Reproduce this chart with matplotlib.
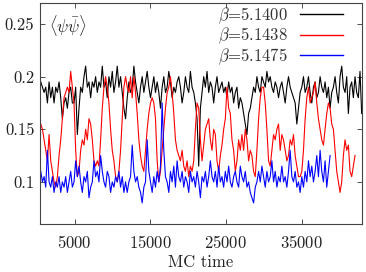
import numpy as np
import matplotlib
matplotlib.use("Agg")
import matplotlib.pyplot as plt
from matplotlib.ticker import FuncFormatter

plt.rcParams['font.family'] = 'cmr10'
plt.rcParams['mathtext.fontset'] = 'cm'
plt.rcParams['axes.formatter.use_mathtext'] = True
plt.rcParams['font.size'] = 12

# MC time of first sample and spacing between samples
t0 = 500
dt = 220

labels = [r'$\beta$=5.1400', r'$\beta$=5.1438', r'$\beta$=5.1475']
colors = ['black', '#ff0000', '#0000ff']

pbp_51400 = [
    0.195, 0.19, 0.185, 0.19, 0.175, 0.195, 0.18, 0.19, 0.175, 0.19,
    0.185, 0.195, 0.18, 0.16, 0.175, 0.18, 0.17, 0.185, 0.19, 0.175,
    0.175, 0.19, 0.145, 0.17, 0.19, 0.185, 0.2, 0.21, 0.19, 0.195,
    0.18, 0.195, 0.19, 0.2, 0.185, 0.195, 0.19, 0.21, 0.19, 0.195,
    0.18, 0.2, 0.19, 0.205, 0.185, 0.195, 0.21, 0.19, 0.2, 0.185,
    0.17, 0.16, 0.18, 0.195, 0.185, 0.19, 0.21, 0.195, 0.185, 0.175,
    0.19, 0.2, 0.185, 0.195, 0.205, 0.19, 0.18, 0.19, 0.2, 0.185,
    0.195, 0.185, 0.17, 0.19, 0.2, 0.185, 0.19, 0.205, 0.195, 0.18,
    0.19, 0.185, 0.195, 0.2, 0.19, 0.175, 0.185, 0.2, 0.19, 0.185,
    0.205, 0.19, 0.185, 0.175, 0.16, 0.115, 0.17, 0.185, 0.2, 0.19,
    0.205, 0.185, 0.195, 0.19, 0.175, 0.19, 0.2, 0.185, 0.19, 0.195,
    0.185, 0.19, 0.18, 0.195, 0.185, 0.19, 0.175, 0.185, 0.19, 0.17,
    0.18, 0.175, 0.165, 0.155, 0.145, 0.165, 0.17, 0.18, 0.19, 0.185,
    0.2, 0.19, 0.185, 0.2, 0.195, 0.19, 0.205, 0.195, 0.2, 0.19,
    0.185, 0.195, 0.19, 0.18, 0.19, 0.195, 0.185, 0.175, 0.19, 0.2,
    0.19, 0.185, 0.18, 0.175, 0.155, 0.17, 0.185, 0.19, 0.2, 0.185,
    0.19, 0.2, 0.185, 0.175, 0.19, 0.195, 0.18, 0.185, 0.2, 0.19,
    0.185, 0.195, 0.18, 0.19, 0.17, 0.185, 0.19, 0.2, 0.185, 0.175,
    0.2, 0.21, 0.19, 0.185, 0.2, 0.165, 0.19, 0.195, 0.18, 0.2,
    0.185, 0.18, 0.205, 0.165,
]

pbp_51438 = [
    0.155, 0.15, 0.14, 0.13, 0.12, 0.145, 0.12, 0.11, 0.1, 0.095,
    0.105, 0.125, 0.14, 0.16, 0.18, 0.185, 0.19, 0.185, 0.205, 0.19,
    0.175, 0.13, 0.105, 0.11, 0.13, 0.14, 0.135, 0.15, 0.14, 0.16,
    0.155, 0.14, 0.12, 0.115, 0.12, 0.115, 0.14, 0.17, 0.19, 0.2,
    0.19, 0.175, 0.15, 0.13, 0.12, 0.105, 0.1, 0.11, 0.13, 0.16,
    0.19, 0.2, 0.19, 0.185, 0.2, 0.18, 0.2, 0.185, 0.165, 0.14,
    0.125, 0.115, 0.11, 0.13, 0.15, 0.165, 0.175, 0.18, 0.175, 0.16,
    0.12, 0.1, 0.11, 0.13, 0.15, 0.17, 0.185, 0.19, 0.2, 0.185,
    0.165, 0.14, 0.13, 0.125, 0.12, 0.13, 0.115, 0.11, 0.12, 0.105,
    0.115, 0.11, 0.12, 0.15, 0.175, 0.17, 0.14, 0.12, 0.135, 0.15,
    0.155, 0.16, 0.14, 0.13, 0.15, 0.145, 0.12, 0.11, 0.125, 0.135,
    0.15, 0.16, 0.19, 0.17, 0.165, 0.14, 0.13, 0.11, 0.12, 0.14,
    0.13, 0.145, 0.13, 0.15, 0.14, 0.12, 0.13, 0.125, 0.11, 0.105,
    0.13, 0.16, 0.18, 0.19, 0.19, 0.175, 0.15, 0.12, 0.115, 0.13,
    0.145, 0.14, 0.15, 0.155, 0.13, 0.145, 0.14, 0.13, 0.12, 0.125,
    0.14, 0.135, 0.145, 0.125, 0.115, 0.105, 0.105, 0.11, 0.13, 0.16,
    0.18, 0.19, 0.175, 0.18, 0.185, 0.195, 0.175, 0.16, 0.15, 0.14,
    0.135, 0.15, 0.165, 0.175, 0.17, 0.155, 0.15, 0.13, 0.11, 0.1,
    0.09, 0.1, 0.125, 0.14, 0.13, 0.135, 0.11, 0.105, 0.115, 0.125,
]

pbp_51475 = [
    0.11, 0.1, 0.105, 0.095, 0.13, 0.1, 0.095, 0.105, 0.09, 0.1,
    0.095, 0.105, 0.09, 0.1, 0.095, 0.105, 0.09, 0.1, 0.11, 0.095,
    0.1, 0.12, 0.105, 0.115, 0.1, 0.09, 0.105, 0.1, 0.11, 0.085,
    0.095, 0.1, 0.12, 0.105, 0.11, 0.1, 0.125, 0.11, 0.1, 0.095,
    0.11, 0.105, 0.09, 0.1, 0.095, 0.105, 0.1, 0.11, 0.095, 0.105,
    0.09, 0.1, 0.09, 0.1, 0.105, 0.135, 0.11, 0.1, 0.105, 0.095,
    0.09, 0.08, 0.095, 0.1, 0.14, 0.11, 0.1, 0.09, 0.105, 0.095,
    0.11, 0.1, 0.115, 0.175, 0.13, 0.105, 0.1, 0.09, 0.11, 0.1,
    0.115, 0.095, 0.12, 0.105, 0.1, 0.11, 0.095, 0.105, 0.1, 0.09,
    0.11, 0.1, 0.105, 0.095, 0.11, 0.1, 0.085, 0.105, 0.1, 0.11,
    0.095, 0.105, 0.12, 0.105, 0.1, 0.11, 0.095, 0.115, 0.1, 0.105,
    0.095, 0.11, 0.1, 0.115, 0.1, 0.095, 0.105, 0.11, 0.1, 0.095,
    0.115, 0.105, 0.1, 0.11, 0.095, 0.1, 0.09, 0.085, 0.08, 0.095,
    0.1, 0.11, 0.1, 0.115, 0.105, 0.095, 0.11, 0.1, 0.105, 0.12,
    0.1, 0.11, 0.095, 0.105, 0.1, 0.115, 0.1, 0.105, 0.095, 0.11,
    0.13, 0.105, 0.1, 0.11, 0.095, 0.1, 0.09, 0.105, 0.095, 0.11,
    0.1, 0.12, 0.105, 0.115, 0.1, 0.11, 0.125, 0.105, 0.13, 0.11,
    0.1, 0.12, 0.095, 0.11, 0.125,
]

series = [pbp_51400, pbp_51438, pbp_51475]

xticks = [5000, 15000, 25000, 35000]
yticks = [0.1, 0.15, 0.2, 0.25]

fig = plt.figure(figsize=(3.66, 2.72), dpi=100)
ax = fig.add_axes([0.1093, 0.1765, 0.8797, 0.8125])

for vals, lab, col in zip(series, labels, colors):
    t = t0 + dt * np.arange(len(vals))
    ax.plot(t, vals, color=col, lw=0.8, label=lab)

ax.set_xlim(400, 43000)
ax.set_ylim(0.06, 0.27)
ax.set_xticks(xticks)
ax.set_yticks(yticks)
ax.yaxis.set_major_formatter(FuncFormatter(lambda v, p: '%g' % v))
ax.tick_params(direction='in', top=True, right=True, length=3.5, width=0.6,
               colors='#333333', labelcolor='#222222')
ax.tick_params(axis='x', pad=7)
ax.tick_params(axis='y', pad=4)
for s in ax.spines.values():
    s.set_color('#444444')
    s.set_linewidth(0.8)

ax.set_xlabel('MC time', color='#222222', labelpad=3)
ax.text(0.028, 0.955, r'$\langle\psi\bar{\psi}\rangle$', transform=ax.transAxes,
        ha='left', va='top', color='#222222')

leg = ax.legend(loc='upper right', bbox_to_anchor=(0.972, 1.035), frameon=False,
                markerfirst=False, handlelength=2.6, handletextpad=0.7,
                labelspacing=0.0, borderaxespad=0.2)
for txt in leg.get_texts():
    txt.set_color('#333333')
for h in leg.get_lines():
    h.set_linewidth(1.0)

fig.savefig('out.png', dpi=100)
